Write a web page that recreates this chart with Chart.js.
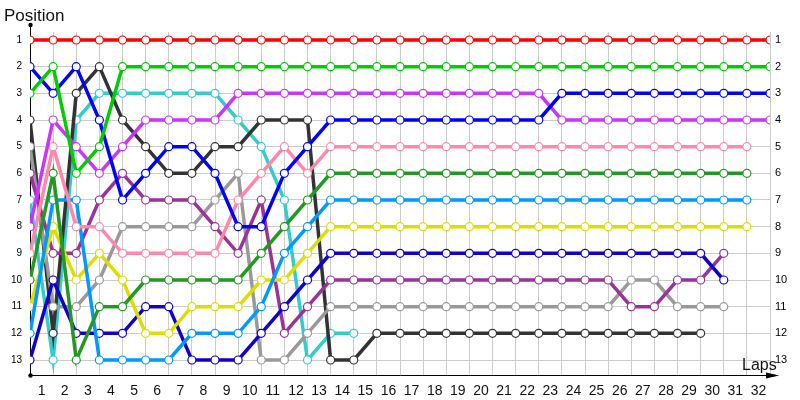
<!DOCTYPE html>
<html>
<head>
<meta charset="utf-8">
<title>Lap chart</title>
<script src="https://cdn.jsdelivr.net/npm/chart.js@4.4.0/dist/chart.umd.min.js"></script>
<style>
  html, body { margin: 0; padding: 0; background: #ffffff; }
  #lapChart { display: block; }
</style>
</head>
<body>
<canvas id="lapChart" width="800" height="400"></canvas>
<script>
var lapNumbers = [0, 1, 2, 3, 4, 5, 6, 7, 8, 9, 10, 11, 12, 13, 14, 15, 16, 17, 18, 19, 20, 21, 22, 23, 24, 25, 26, 27, 28, 29, 30, 31, 32];
var lapLabels = ["1", "2", "3", "4", "5", "6", "7", "8", "9", "10", "11", "12", "13", "14", "15", "16",
                 "17", "18", "19", "20", "21", "22", "23", "24", "25", "26", "27", "28", "29", "30", "31", "32"];
var positionTicks = [1, 2, 3, 4, 5, 6, 7, 8, 9, 10, 11, 12, 13];

// position of each car per lap, lap 0 first
var redCar       = [1, 1, 1, 1, 1, 1, 1, 1, 1, 1, 1, 1, 1, 1, 1, 1, 1, 1, 1, 1, 1, 1, 1, 1, 1, 1, 1, 1, 1, 1, 1, 1, 1];
var greenCar     = [3, 2, 6, 5, 2, 2, 2, 2, 2, 2, 2, 2, 2, 2, 2, 2, 2, 2, 2, 2, 2, 2, 2, 2, 2, 2, 2, 2, 2, 2, 2, 2, 2];
var blueCar      = [2, 3, 2, 4, 7, 6, 5, 5, 6, 8, 8, 6, 5, 4, 4, 4, 4, 4, 4, 4, 4, 4, 4, 3, 3, 3, 3, 3, 3, 3, 3, 3, 3];
var violetCar    = [8, 4, 5, 6, 5, 4, 4, 4, 4, 3, 3, 3, 3, 3, 3, 3, 3, 3, 3, 3, 3, 3, 3, 4, 4, 4, 4, 4, 4, 4, 4, 4, 4];
var pinkCar      = [9, 5, 8, 8, 9, 9, 9, 9, 9, 7, 6, 5, 6, 5, 5, 5, 5, 5, 5, 5, 5, 5, 5, 5, 5, 5, 5, 5, 5, 5, 5, 5];
var darkGreenCar = [10, 6, 13, 11, 11, 10, 10, 10, 10, 10, 9, 8, 7, 6, 6, 6, 6, 6, 6, 6, 6, 6, 6, 6, 6, 6, 6, 6, 6, 6, 6, 6];
var skyBlueCar   = [12, 7, 7, 13, 13, 13, 13, 12, 12, 12, 11, 9, 8, 7, 7, 7, 7, 7, 7, 7, 7, 7, 7, 7, 7, 7, 7, 7, 7, 7, 7, 7];
var yellowCar    = [11, 8, 10, 9, 10, 12, 12, 11, 11, 11, 10, 10, 9, 8, 8, 8, 8, 8, 8, 8, 8, 8, 8, 8, 8, 8, 8, 8, 8, 8, 8, 8];
var navyCar      = [13, 10, 12, 12, 12, 11, 11, 13, 13, 13, 12, 11, 10, 9, 9, 9, 9, 9, 9, 9, 9, 9, 9, 9, 9, 9, 9, 9, 9, 9, 10];
var plumCar      = [6, 9, 9, 7, 6, 7, 7, 7, 8, 9, 7, 12, 11, 10, 10, 10, 10, 10, 10, 10, 10, 10, 10, 10, 10, 10, 11, 11, 10, 10, 9];
var greyCar      = [5, 11, 11, 10, 8, 8, 8, 8, 7, 6, 13, 13, 12, 11, 11, 11, 11, 11, 11, 11, 11, 11, 11, 11, 11, 11, 10, 10, 11, 11, 11];
var blackCar     = [4, 12, 3, 2, 4, 5, 6, 6, 5, 5, 4, 4, 4, 13, 13, 12, 12, 12, 12, 12, 12, 12, 12, 12, 12, 12, 12, 12, 12, 12];
var cyanCar      = [7, 13, 4, 3, 3, 3, 3, 3, 3, 4, 5, 7, 13, 12, 12];

var cars = [redCar, greenCar, blueCar, violetCar, pinkCar, darkGreenCar, skyBlueCar,
            yellowCar, navyCar, plumCar, greyCar, blackCar, cyanCar];
var carColors = ["#ff0000", "#00cc00", "#0000ff", "#cc33ff", "#ff88aa", "#229922", "#0099ff",
                 "#dddd00", "#1100cc", "#993399", "#999999", "#333333", "#33cccc"];

var labelFont = "'Liberation Sans', Arial, sans-serif";

function toPoints(values) {
    return values.map(function (v, i) {
        return {x: lapNumbers[i], y: v};
    });
}

var datasets = cars.map(function (values, i) {
    return {
        data: toPoints(values),
        borderColor: carColors[i],
        borderWidth: 3.5,
        pointRadius: 4,
        pointBorderWidth: 1.2,
        pointBorderColor: carColors[i],
        pointBackgroundColor: "#ffffff",
        fill: false,
        tension: 0
    };
});

function positionAxisTicks(scale) {
    scale.ticks = positionTicks.map(function (p) { return {value: p}; });
}

var axesPlugin = {
    id: "lapAxes",
    beforeDatasetsDraw: function (chart) {
        var ctx = chart.ctx;
        var area = chart.chartArea;
        var x0 = Math.round(area.left) + 0.5;
        var y0 = Math.round(area.bottom) + 0.5;
        ctx.save();
        ctx.strokeStyle = "#000000";
        ctx.fillStyle = "#000000";
        ctx.lineWidth = 1;
        ctx.beginPath();
        ctx.moveTo(x0, 25);
        ctx.lineTo(x0, y0);
        ctx.lineTo(770, y0);
        ctx.stroke();
        // arrow at the end of the lap axis
        ctx.beginPath();
        ctx.moveTo(770, y0 - 1.5);
        ctx.lineTo(770, y0 + 1.5);
        ctx.lineTo(779, y0);
        ctx.closePath();
        ctx.fill();
        ctx.beginPath();
        ctx.moveTo(766, y0 - 3);
        ctx.lineTo(779, y0);
        ctx.lineTo(766, y0 + 3);
        ctx.closePath();
        ctx.fill();
        ctx.beginPath();
        ctx.arc(x0, 25, 2.2, 0, Math.PI * 2);
        ctx.fill();
        ctx.beginPath();
        ctx.arc(x0, y0, 2.2, 0, Math.PI * 2);
        ctx.fill();
        ctx.font = "17px " + labelFont;
        ctx.textBaseline = "alphabetic";
        ctx.textAlign = "left";
        ctx.fillStyle = "#111111";
        ctx.fillText("Position", 4, 21);
        ctx.font = "16px " + labelFont;
        ctx.fillText("Laps", 742, 370);
        ctx.restore();
    }
};

var ctx = document.getElementById("lapChart").getContext("2d");
var lapChart = new Chart(ctx, {
    type: "line",
    data: {datasets: datasets},
    plugins: [axesPlugin],
    options: {
        responsive: false,
        animation: false,
        layout: {padding: {top: 32, left: 0, right: 0, bottom: 0}},
        plugins: {
            legend: {display: false},
            tooltip: {enabled: false}
        },
        scales: {
            x: {
                type: "linear",
                min: 0,
                max: 32,
                afterBuildTicks: function (scale) {
                    scale.ticks = lapLabels.map(function (l, i) { return {value: i + 0.5}; });
                },
                afterFit: function (scale) { scale.height = 25; },
                ticks: {
                    autoSkip: false,
                    maxRotation: 0,
                    padding: 8,
                    color: "#111111",
                    font: {family: labelFont, size: 14},
                    callback: function (value, index) { return lapLabels[index]; }
                },
                grid: {offset: true, color: "#cccccc", drawTicks: false},
                border: {display: false}
            },
            y: {
                type: "linear",
                reverse: true,
                min: 0.7,
                max: 13.5625,
                afterBuildTicks: positionAxisTicks,
                afterFit: function (scale) { scale.width = 30; },
                ticks: {
                    padding: 8,
                    color: "#000000",
                    font: {family: labelFont, size: 10}
                },
                grid: {color: "#cccccc", drawTicks: false},
                border: {display: false}
            },
            y2: {
                type: "linear",
                position: "right",
                reverse: true,
                min: 0.7,
                max: 13.5625,
                afterBuildTicks: positionAxisTicks,
                afterFit: function (scale) { scale.width = 30; },
                ticks: {
                    padding: -3,
                    color: "#000000",
                    font: {family: labelFont, size: 11}
                },
                grid: {display: false},
                border: {display: false}
            }
        }
    }
});
</script>
</body>
</html>
